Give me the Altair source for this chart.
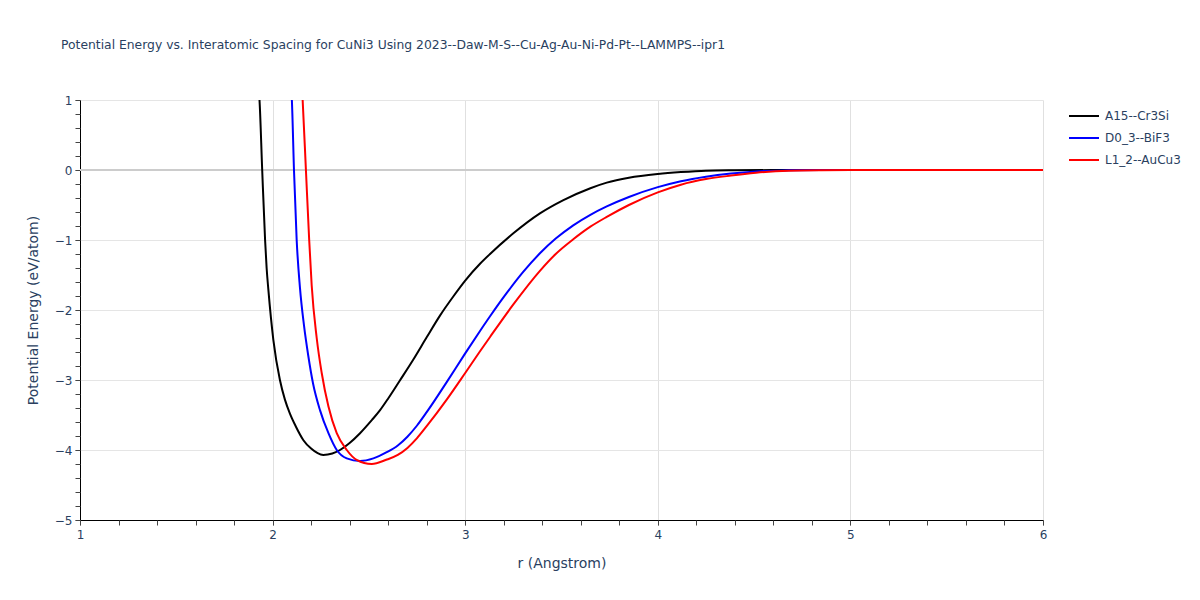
import altair as alt
import pandas as pd

title_text = "Potential Energy vs. Interatomic Spacing for CuNi3 Using 2023--Daw-M-S--Cu-Ag-Au-Ni-Pd-Pt--LAMMPS--ipr1"
names = ["A15--Cr3Si", "D0_3--BiF3", "L1_2--AuCu3"]
colors = ["black", "blue", "red"]

# A15--Cr3Si
r_a15 = [1.92, 1.932, 1.946, 1.961, 1.969, 1.978, 2.004, 2.038, 2.064, 2.09, 2.12, 2.16, 2.2,
         2.263, 2.31, 2.35, 2.40, 2.454, 2.516, 2.558, 2.601, 2.66, 2.73, 2.80, 2.869, 2.94,
         3.0, 3.077, 3.129, 3.25, 3.388, 3.51, 3.65, 3.735, 3.85, 4.0, 4.12, 4.25, 4.4, 4.6,
         4.8, 5.0, 5.5, 6.0]
e_a15 = [1.3, 1.0, 0.0, -1.0, -1.40, -1.71, -2.43, -3.0, -3.28, -3.48, -3.66, -3.86, -3.98,
         -4.07, -4.05, -4.0, -3.9, -3.76, -3.57, -3.43, -3.26, -3.01, -2.71, -2.39, -2.08,
         -1.80, -1.58, -1.34, -1.2, -0.905, -0.62, -0.43, -0.26, -0.18, -0.11, -0.057, -0.03,
         -0.01, -0.004, -0.001, 0, 0, 0, 0]

# D0_3--BiF3
r_d03 = [2.09, 2.10, 2.111, 2.125, 2.142, 2.163, 2.185, 2.21, 2.246, 2.29, 2.333, 2.385, 2.454,
         2.523, 2.59, 2.65, 2.70, 2.75, 2.80, 2.904, 3.0, 3.077, 3.129, 3.215, 3.3, 3.388, 3.47,
         3.561, 3.65, 3.735, 3.85, 4.0, 4.12, 4.25, 4.38, 4.51, 4.68, 4.85, 5.0, 5.5, 6.0]
e_d03 = [1.3, 1.0, 0.0, -1.0, -1.68, -2.22, -2.65, -3.05, -3.43, -3.76, -4.0, -4.12, -4.157,
         -4.12, -4.035, -3.935, -3.81, -3.65, -3.46, -3.03, -2.62, -2.30, -2.09, -1.76, -1.46,
         -1.19, -0.98, -0.79, -0.64, -0.52, -0.385, -0.245, -0.16, -0.095, -0.05, -0.02,
         -0.005, 0, 0, 0, 0]

# L1_2--AuCu3
r_l12 = [2.15, 2.156, 2.173, 2.19, 2.203, 2.229, 2.255, 2.29, 2.333, 2.385, 2.436, 2.515, 2.59,
         2.65, 2.70, 2.75, 2.80, 2.904, 3.0, 3.077, 3.129, 3.25, 3.388, 3.47, 3.561, 3.65,
         3.735, 3.85, 4.0, 4.12, 4.25, 4.38, 4.51, 4.68, 4.85, 5.0, 5.5, 6.0]
e_l12 = [1.3, 1.0, 0.0, -1.0, -1.65, -2.40, -2.9, -3.38, -3.76, -4.0, -4.14, -4.2, -4.14,
         -4.07, -3.97, -3.83, -3.66, -3.28, -2.90, -2.59, -2.385, -1.92, -1.44, -1.2, -0.99,
         -0.81, -0.67, -0.5, -0.32, -0.21, -0.13, -0.08, -0.04, -0.01, -0.002, 0, 0, 0]

x_major = [1, 2, 3, 4, 5, 6]
y_major = [-5, -4, -3, -2, -1, 0, 1]
x_minor = [round(1 + 0.2 * i, 1) for i in range(26)]
y_minor = [round(-5 + 0.2 * i, 1) for i in range(31)]

rows = []
for name, rs, es in zip(names, [r_a15, r_d03, r_l12], [e_a15, e_d03, e_l12]):
    for r, e in zip(rs, es):
        rows.append({"r": r, "E": e, "structure": name})
df = pd.DataFrame(rows)

font = "DejaVu Sans"
txt = "#2a3f5f"

xscale = alt.Scale(domain=[1, 6], nice=False, zero=False)
yscale = alt.Scale(domain=[-5, 1], nice=False, zero=False)

zero = alt.Chart(pd.DataFrame({"y": [0]})).mark_rule(color="#cccccc", strokeWidth=2).encode(
    y=alt.Y("y:Q", scale=yscale, axis=None)
)

lines = alt.Chart(df).mark_line(strokeWidth=2, clip=True, interpolate="monotone").encode(
    x=alt.X("r:Q", scale=xscale, title="r (Angstrom)",
            axis=alt.Axis(values=x_major, format="d", grid=True, gridColor="#e0e0e0",
                          domainColor="black", tickColor="#999999", tickSize=5,
                          labelFlush=False, labelPadding=4, titlePadding=16, orient="bottom")),
    y=alt.Y("E:Q", scale=yscale, title="Potential Energy (eV/atom)",
            axis=alt.Axis(values=y_major, format="d", grid=True, gridColor="#e5e5e5",
                          domainColor="black", tickColor="#999999", tickSize=5,
                          labelFlush=False, labelPadding=3, titlePadding=14, orient="left")),
    color=alt.Color("structure:N", scale=alt.Scale(domain=names, range=colors),
                    legend=alt.Legend(title=None, orient="none", legendX=988, legendY=0,
                                      symbolType="stroke", symbolSize=900,
                                      symbolStrokeWidth=2, labelFontSize=12,
                                      labelColor=txt, labelFont=font, rowPadding=-14,
                                      labelOffset=5)),
    detail="structure:N",
)

minor = alt.Chart(df).mark_point(opacity=0).encode(
    x=alt.X("r:Q", scale=xscale,
            axis=alt.Axis(values=x_minor, labels=False, grid=False, domain=False, title=None,
                          tickColor="#444444", tickSize=5, orient="bottom")),
    y=alt.Y("E:Q", scale=yscale,
            axis=alt.Axis(values=y_minor, labels=False, grid=False, domain=False, title=None,
                          tickColor="#444444", tickSize=5, orient="left")),
)

chart = alt.layer(zero, lines, minor).resolve_axis(x="independent", y="independent").properties(
    width=963,
    height=420,
    autosize=alt.AutoSizeParams(type="none"),
    padding={"left": 72, "top": 92, "right": 140, "bottom": 60},
    title=alt.TitleParams(title_text, anchor="start", frame="group", fontSize=12.35, font=font,
                          fontWeight="normal", color=txt, dx=-19, offset=25),
).configure_axis(
    labelFont=font, labelFontSize=12, labelColor=txt,
    titleFont=font, titleFontSize=14, titleColor=txt, titleFontWeight="normal",
).configure_view(stroke=None)

chart.save("out.html", embed_options={"renderer": "svg", "actions": False})
